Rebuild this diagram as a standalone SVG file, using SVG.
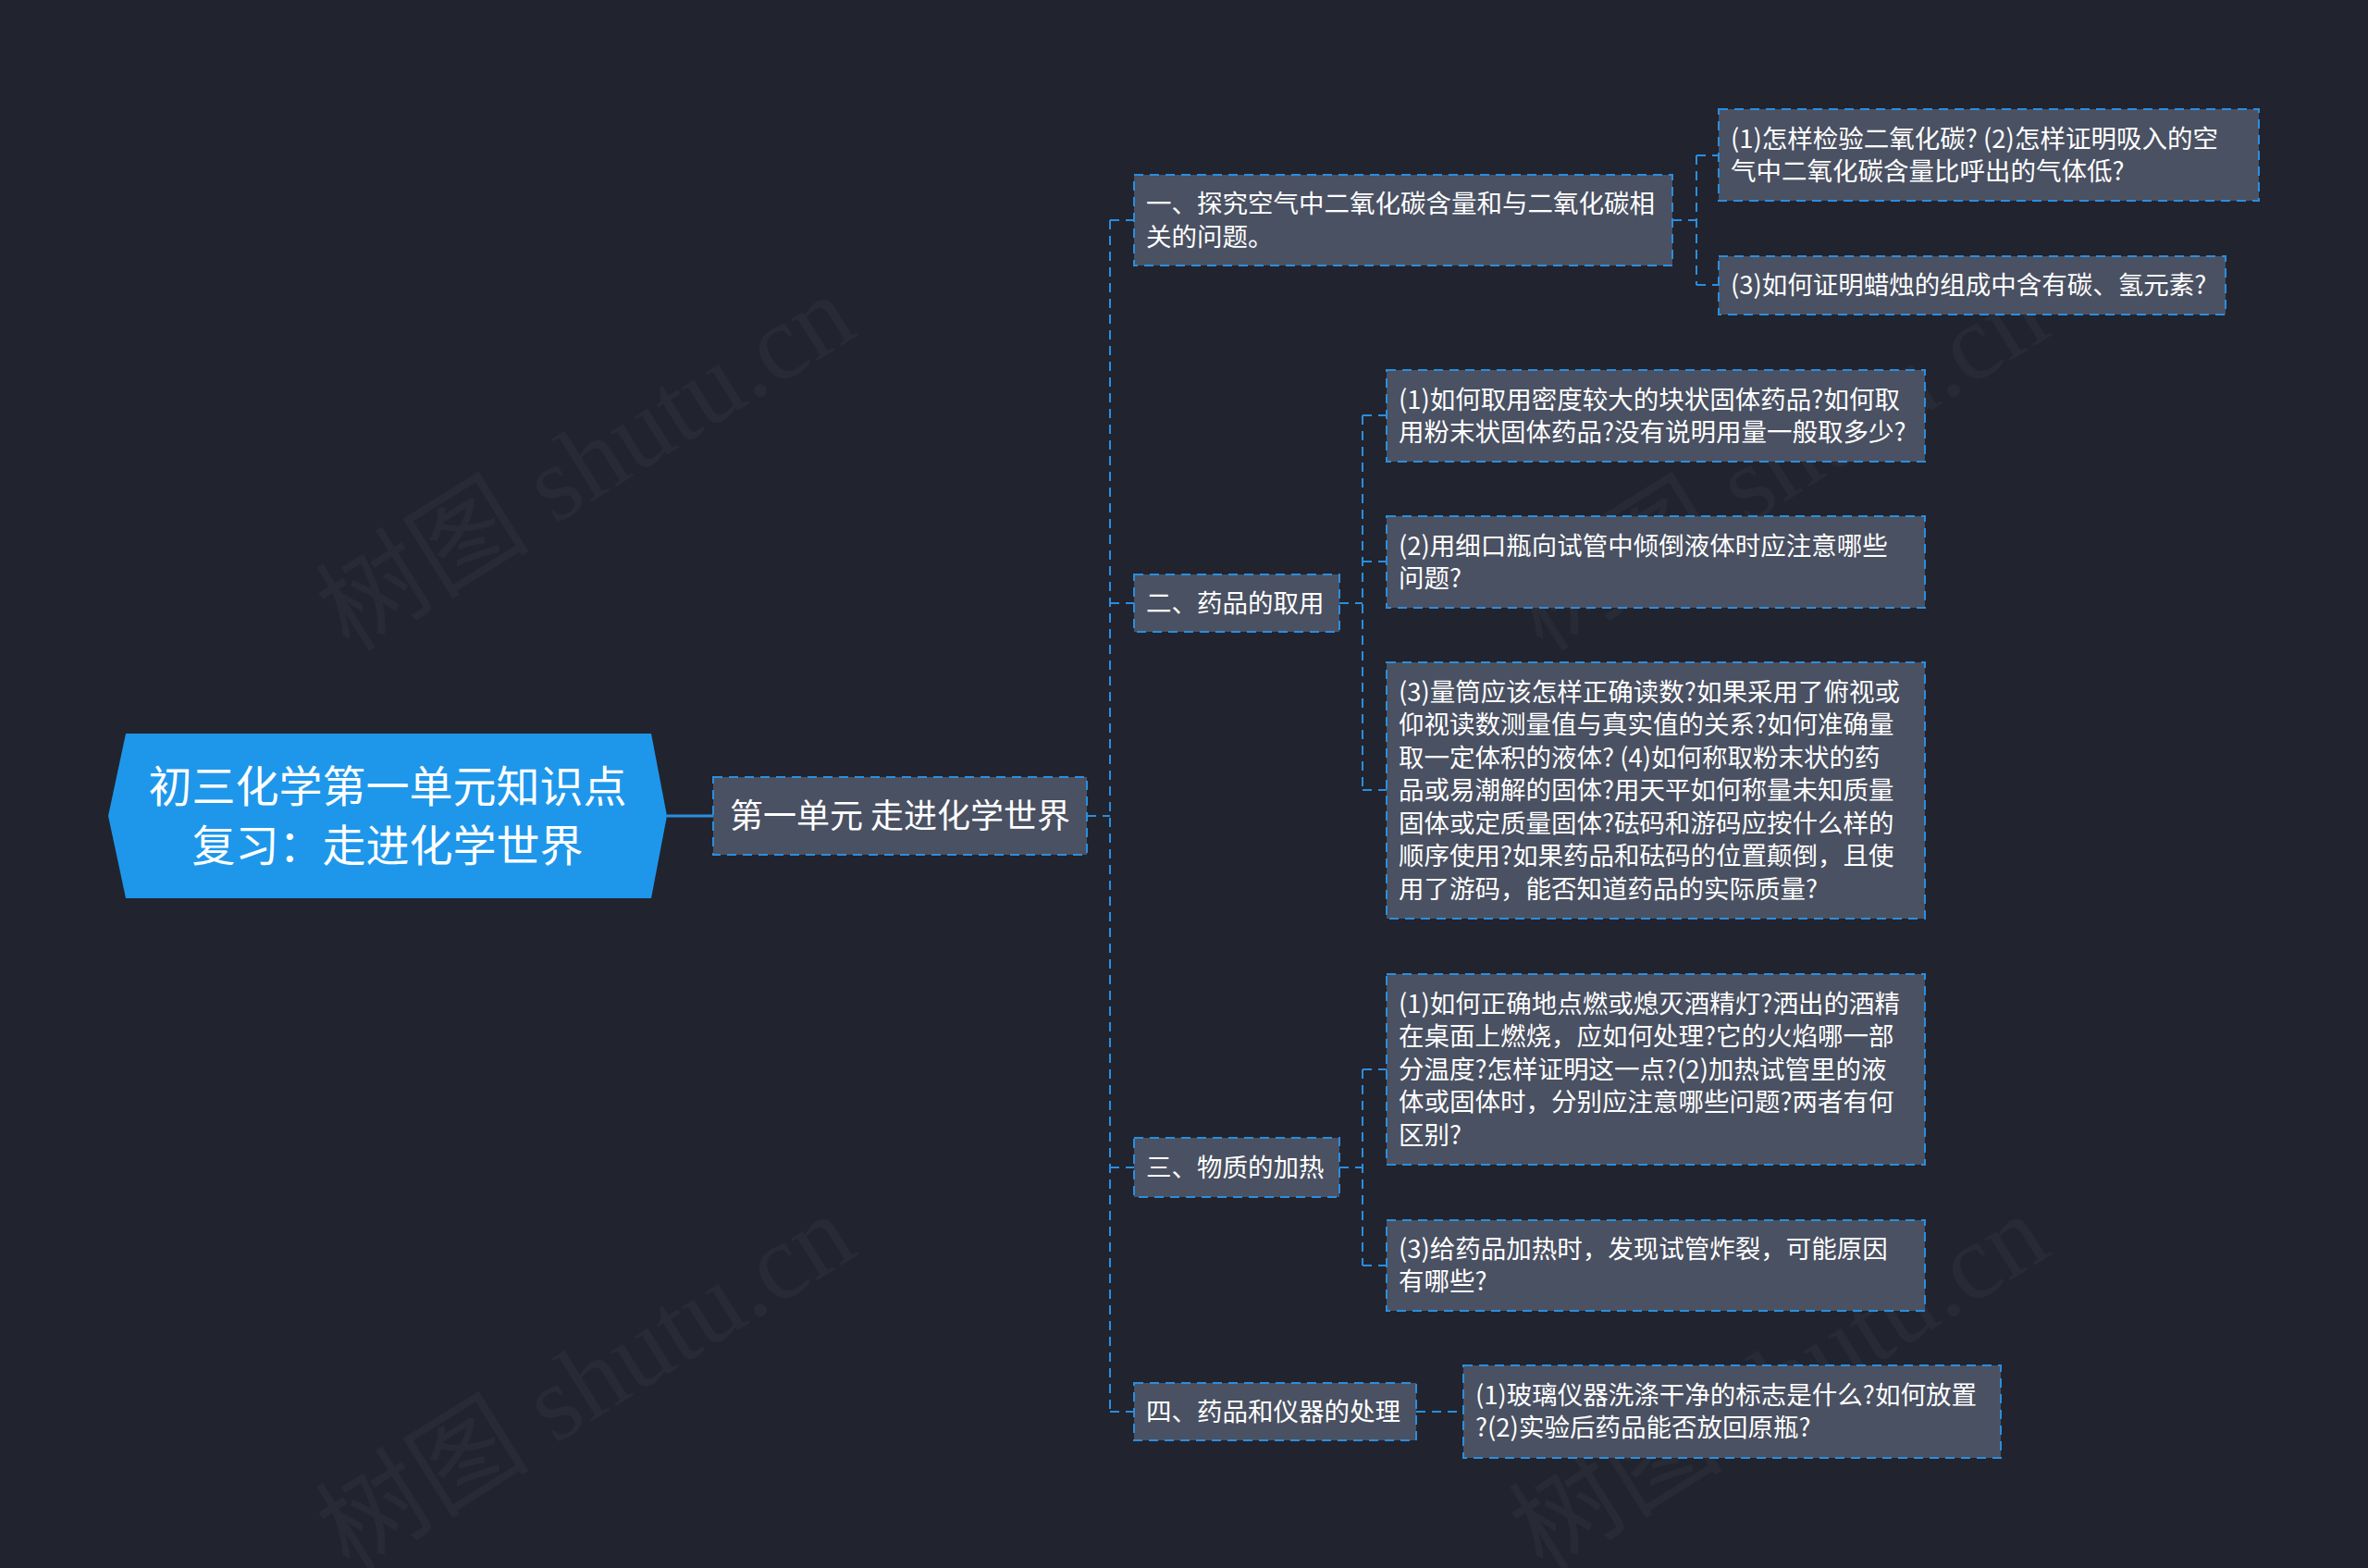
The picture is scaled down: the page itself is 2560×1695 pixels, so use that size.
<svg xmlns="http://www.w3.org/2000/svg" width="2560" height="1695" viewBox="0 0 2560 1695">
<style>
.bg{fill:#21242e}
.wm{font-family:"Liberation Serif","Noto Sans CJK SC",serif;font-size:116px;fill:#ffffff;fill-opacity:0.035}
.box{fill:#4a5162;stroke:#2a8ee0;stroke-width:2;stroke-dasharray:10 7}
.t{font-family:"Noto Sans CJK SC","Noto Sans",sans-serif;font-size:27.5px;fill:#ffffff}
.tm{font-family:"Noto Sans CJK SC","Noto Sans",sans-serif;font-size:36px;fill:#ffffff}
.tr{font-family:"Noto Sans CJK SC","Noto Sans",sans-serif;font-size:47px;fill:#ffffff}
.ln{fill:none;stroke:#2a8ee0;stroke-width:2;stroke-dasharray:10 7}
.sl{fill:none;stroke:#2a8ee0;stroke-width:3}
</style>
<rect class="bg" x="0" y="0" width="2560" height="1695"/>
<g id="watermarks">
<text class="wm" x="378" y="706" transform="rotate(-32 378 706)">树图 shutu.cn</text>
<text class="wm" x="378" y="1700" transform="rotate(-32 378 1700)">树图 shutu.cn</text>
<text class="wm" x="1668" y="706" transform="rotate(-32 1668 706)">树图 shutu.cn</text>
<text class="wm" x="1668" y="1700" transform="rotate(-32 1668 1700)">树图 shutu.cn</text>
</g>
<g id="connectors">
<path class="sl" d="M721 882 H771"/>
<path class="ln" d="M1175 882 H1200"/>
<path class="ln" d="M1200 238 V1526"/>
<path class="ln" d="M1200 238 H1226 M1200 652 H1226 M1200 1262 H1226 M1200 1526 H1226"/>
<path class="ln" d="M1808 238 H1834 M1834 168 V308 M1834 168 H1858 M1834 308 H1858"/>
<path class="ln" d="M1448 652 H1473 M1473 449 V854 M1473 449 H1499 M1473 607 H1499 M1473 854 H1499"/>
<path class="ln" d="M1448 1262 H1473 M1473 1156 V1368 M1473 1156 H1499 M1473 1368 H1499"/>
<path class="ln" d="M1531 1526 H1582"/>
</g>
<g id="root">
<polygon points="117,882 136,793 704,793 721,882 704,971 136,971" fill="#1e97eb"/>
<text class="tr" x="419" y="867" text-anchor="middle">初三化学第一单元知识点</text>
<text class="tr" x="419" y="931" text-anchor="middle">复习：走进化学世界</text>
</g>
<g id="main">
<rect class="box" x="771" y="840" width="404" height="84"/>
<text class="tm" x="973" y="895" text-anchor="middle">第一单元 走进化学世界</text>
</g>
<g id="n1">
<rect class="box" x="1226" y="189" width="582" height="98"/>
<text class="t" x="1239" y="230">一、探究空气中二氧化碳含量和与二氧化碳相</text>
<text class="t" x="1239" y="266">关的问题。</text>
</g>
<g id="n1a">
<rect class="box" x="1858" y="118" width="584" height="99"/>
<text class="t" x="1871" y="160">(1)怎样检验二氧化碳? (2)怎样证明吸入的空</text>
<text class="t" x="1871" y="195">气中二氧化碳含量比呼出的气体低?</text>
</g>
<g id="n1b">
<rect class="box" x="1858" y="277" width="548" height="63"/>
<text class="t" x="1871" y="318">(3)如何证明蜡烛的组成中含有碳、氢元素?</text>
</g>
<g id="n2">
<rect class="box" x="1226" y="621" width="222" height="62"/>
<text class="t" x="1239" y="662">二、药品的取用</text>
</g>
<g id="n2a">
<rect class="box" x="1499" y="400" width="582" height="99"/>
<text class="t" x="1512" y="442">(1)如何取用密度较大的块状固体药品?如何取</text>
<text class="t" x="1512" y="477">用粉末状固体药品?没有说明用量一般取多少?</text>
</g>
<g id="n2b">
<rect class="box" x="1499" y="558" width="582" height="99"/>
<text class="t" x="1512" y="600">(2)用细口瓶向试管中倾倒液体时应注意哪些</text>
<text class="t" x="1512" y="635">问题?</text>
</g>
<g id="n2c">
<rect class="box" x="1499" y="716" width="582" height="277"/>
<text class="t" x="1512" y="758">(3)量筒应该怎样正确读数?如果采用了俯视或</text>
<text class="t" x="1512" y="793">仰视读数测量值与真实值的关系?如何准确量</text>
<text class="t" x="1512" y="829">取一定体积的液体? (4)如何称取粉末状的药</text>
<text class="t" x="1512" y="864">品或易潮解的固体?用天平如何称量未知质量</text>
<text class="t" x="1512" y="900">固体或定质量固体?砝码和游码应按什么样的</text>
<text class="t" x="1512" y="935">顺序使用?如果药品和砝码的位置颠倒，且使</text>
<text class="t" x="1512" y="971">用了游码，能否知道药品的实际质量?</text>
</g>
<g id="n3">
<rect class="box" x="1226" y="1230" width="222" height="64"/>
<text class="t" x="1239" y="1272">三、物质的加热</text>
</g>
<g id="n3a">
<rect class="box" x="1499" y="1053" width="582" height="206"/>
<text class="t" x="1512" y="1095">(1)如何正确地点燃或熄灭酒精灯?洒出的酒精</text>
<text class="t" x="1512" y="1130">在桌面上燃烧，应如何处理?它的火焰哪一部</text>
<text class="t" x="1512" y="1166">分温度?怎样证明这一点?(2)加热试管里的液</text>
<text class="t" x="1512" y="1201">体或固体时，分别应注意哪些问题?两者有何</text>
<text class="t" x="1512" y="1237">区别?</text>
</g>
<g id="n3b">
<rect class="box" x="1499" y="1319" width="582" height="98"/>
<text class="t" x="1512" y="1360">(3)给药品加热时，发现试管炸裂，可能原因</text>
<text class="t" x="1512" y="1395">有哪些?</text>
</g>
<g id="n4">
<rect class="box" x="1226" y="1495" width="305" height="62"/>
<text class="t" x="1239" y="1536">四、药品和仪器的处理</text>
</g>
<g id="n4a">
<rect class="box" x="1582" y="1476" width="581" height="100"/>
<text class="t" x="1595" y="1518">(1)玻璃仪器洗涤干净的标志是什么?如何放置</text>
<text class="t" x="1595" y="1553">?(2)实验后药品能否放回原瓶?</text>
</g>
</svg>
